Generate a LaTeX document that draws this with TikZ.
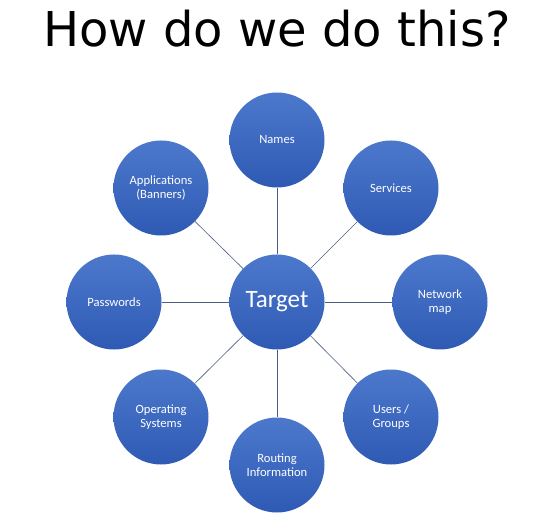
\documentclass[tikz,border=0pt]{standalone}
\usepackage{fontspec}
\setmainfont{Carlito}
\newfontfamily\titlefont{DejaVu Sans}
\begin{document}
\begin{tikzpicture}[x=1pt,y=1pt,
  bubble/.style={circle, minimum size=95pt, inner sep=0pt, text=white, align=center,
    top color=cTop, bottom color=cBot, draw=none, font=\fontsize{12.6}{14.5}\selectfont},
  link/.style={draw=cLine, line width=0.6pt}]
\definecolor{cTop}{HTML}{4C78CC}
\definecolor{cBot}{HTML}{2E5AB4}
\definecolor{cLine}{HTML}{4A5E80}
\useasboundingbox (0,0) rectangle (545,522);
\node[anchor=base, inner sep=0pt] (title) at (277,475) {\titlefont\fontsize{48}{56}\selectfont How do we do this?};
\node[bubble, font=\fontsize{25}{29}\selectfont] (t) at (277,220) {Target};
\node[bubble] (n) at (277,382) {Names};
\node[bubble] (s) at (391,334) {Services};
\node[bubble] (m) at (440,220) {Network\\map};
\node[bubble] (u) at (391,105) {Users /\\Groups};
\node[bubble] (r) at (277,57) {Routing\\Information};
\node[bubble] (o) at (161,105) {Operating\\Systems};
\node[bubble] (p) at (114,220) {Passwords};
\node[bubble] (a) at (161,334) {Applications\\(Banners)};
\foreach \x in {n,s,m,u,r,o,p,a} \draw[link] (t) -- (\x);
\end{tikzpicture}
\end{document}
